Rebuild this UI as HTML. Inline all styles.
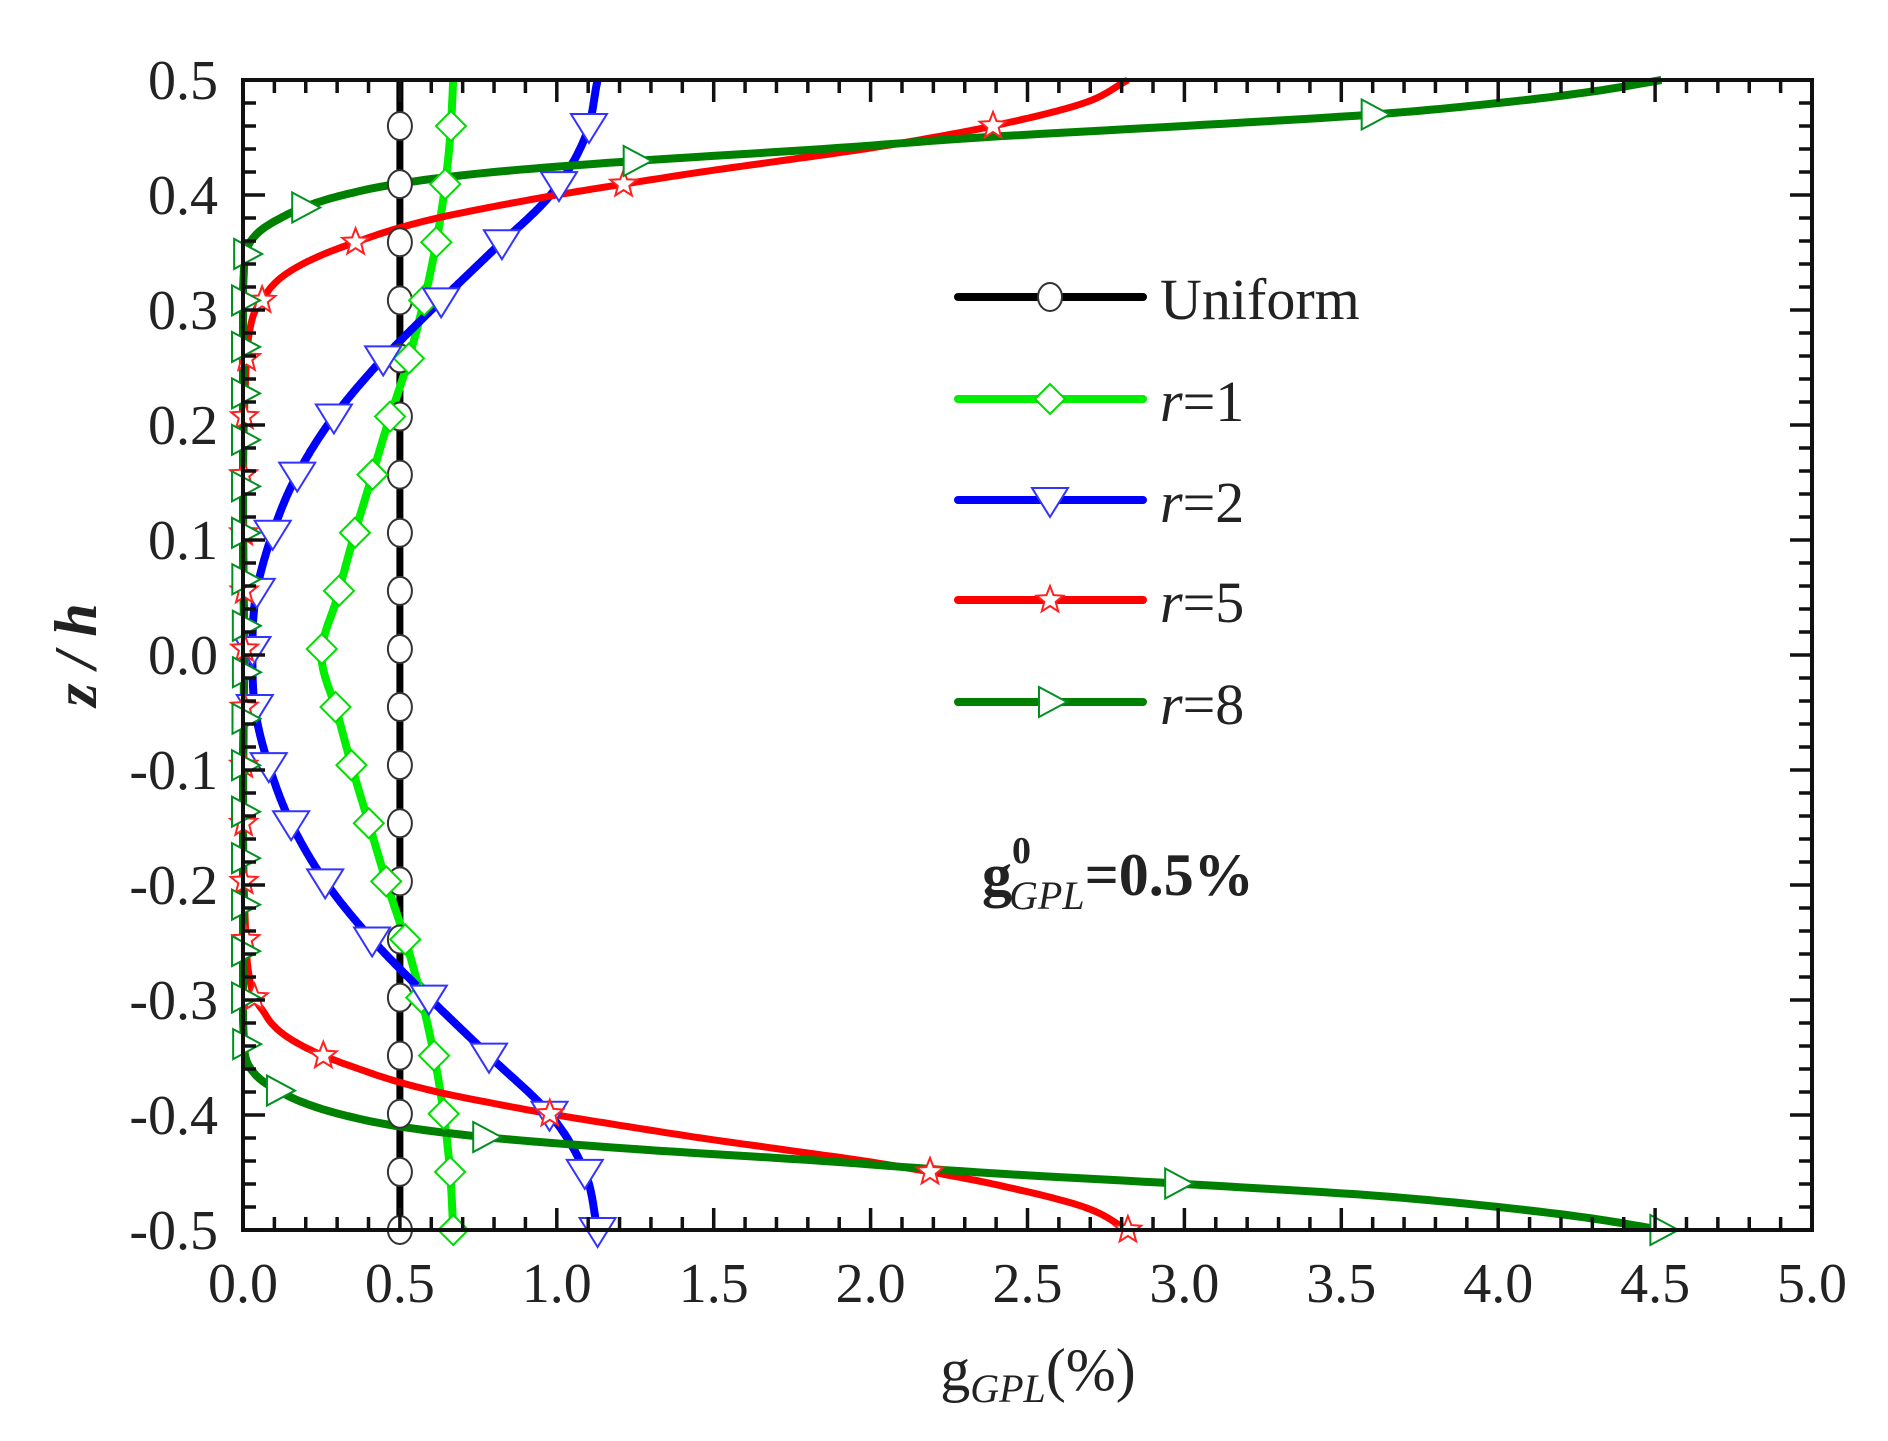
<!DOCTYPE html>
<html><head><meta charset="utf-8"><style>
html,body{margin:0;padding:0;background:#fff;}
svg{display:block;}
text{font-family:"Liberation Serif",serif;fill:#222;}
</style></head><body>
<svg id="s" width="1888" height="1441" viewBox="0 0 1888 1441" xmlns="http://www.w3.org/2000/svg">
<g id="curves"></g>
<g id="frame"></g>
<g id="labels">
<text x="1038" y="1390" font-size="60" text-anchor="middle">g<tspan font-size="40" font-style="italic" dy="12">GPL</tspan><tspan dy="-12">(%)</tspan></text>
<text transform="translate(96,655) rotate(-90)" font-size="60" font-weight="bold" font-style="italic" text-anchor="middle">z / h</text>
<text x="982" y="895" font-size="60" font-weight="bold">g<tspan font-size="38" dy="-32">0</tspan><tspan font-size="40" font-style="italic" font-weight="normal" dx="-22" dy="46">GPL</tspan><tspan dy="-14">=0.5%</tspan></text>
</g>
<g id="legend"></g>
</svg>
<script>
const NS="http://www.w3.org/2000/svg";
const L=243,R=1812,T=80,B=1230;
const X=g=>L+g*(R-L)/5, Y=z=>T+(0.5-z)*(B-T);
function el(parent,tag,attrs,txt){const e=document.createElementNS(NS,tag);for(const k in attrs)e.setAttribute(k,attrs[k]);if(txt!==undefined)e.textContent=txt;document.getElementById(parent).appendChild(e);return e;}
function interp(pts){
  const n=pts.length,xs=pts.map(p=>p[0]),ys=pts.map(p=>p[1]);
  const d=[],m=[];
  for(let i=0;i<n-1;i++)d.push((ys[i+1]-ys[i])/(xs[i+1]-xs[i]));
  m[0]=d[0];m[n-1]=d[n-2];
  for(let i=1;i<n-1;i++){m[i]=(d[i-1]*d[i]<=0)?0:(d[i-1]+d[i])/2;}
  return z=>{let i=0;while(i<n-2&&z>xs[i+1])i++;const h=xs[i+1]-xs[i],t=(z-xs[i])/h;
    const h00=2*t*t*t-3*t*t+1,h10=t*t*t-2*t*t+t,h01=-2*t*t*t+3*t*t,h11=t*t*t-t*t;
    return h00*ys[i]+h10*h*m[i]+h01*ys[i+1]+h11*h*m[i+1];};
}
function sym(half){
  const a=half.slice().sort((p,q)=>p[0]-q[0]);
  const neg=a.filter(p=>p[0]>0).map(p=>[-p[0],p[1]]).reverse();
  return interp(neg.concat(a));
}
const f={
 uni:z=>0.5,
 r1:sym([[0,0.25],[0.05,0.30],[0.1,0.35],[0.15,0.405],[0.2,0.46],[0.25,0.52],[0.3,0.57],[0.35,0.61],[0.4,0.64],[0.45,0.66],[0.5,0.67]]),
 r2:sym([[0,0.03],[0.05,0.04],[0.1,0.087],[0.15,0.16],[0.2,0.27],[0.25,0.42],[0.3,0.6],[0.35,0.79],[0.4,0.98],[0.45,1.09],[0.5,1.13]]),
 r5:sym([[0,0.005],[0.25,0.01],[0.28,0.02],[0.30,0.04],[0.31,0.065],[0.32,0.09],[0.33,0.13],[0.34,0.19],[0.35,0.27],[0.36,0.37],[0.37,0.48],[0.38,0.62],[0.39,0.8],[0.40,1.0],[0.41,1.225],[0.42,1.46],[0.43,1.72],[0.44,1.98],[0.45,2.2],[0.46,2.39],[0.48,2.68],[0.5,2.82]]),
 r8:sym([[0,0.003],[0.34,0.004],[0.35,0.008],[0.36,0.025],[0.37,0.06],[0.38,0.12],[0.39,0.2],[0.40,0.32],[0.41,0.5],[0.42,0.8],[0.43,1.27],[0.44,1.85],[0.45,2.35],[0.46,3.0],[0.47,3.6],[0.48,4.0],[0.49,4.3],[0.5,4.52]])
};
const styles={
 uni:{c:"#000",w:7,m:"circle",mc:"#333"},
 r1:{c:"#00ee00",w:8,m:"diamond",mc:"#00dd00"},
 r2:{c:"#0000ff",w:8,m:"down",mc:"#3333ff"},
 r5:{c:"#ff0000",w:7,m:"star",mc:"#ff2020"},
 r8:{c:"#008000",w:8,m:"right",mc:"#009020"}
};
function marker(parent,type,x,y,c){
  const a={fill:"#fff",stroke:c,"stroke-width":2};
  if(type=="circle")el(parent,"ellipse",Object.assign({cx:x,cy:y,rx:12,ry:14},a));
  else if(type=="diamond")el(parent,"polygon",Object.assign({points:`${x},${y-15} ${x+15},${y} ${x},${y+15} ${x-15},${y}`},a));
  else if(type=="down")el(parent,"polygon",Object.assign({points:`${x-18},${y-12} ${x+18},${y-12} ${x},${y+17}`},a));
  else if(type=="right")el(parent,"polygon",Object.assign({points:`${x-11},${y-15} ${x+17},${y} ${x-11},${y+15}`},a));
  else if(type=="star"){let p=[];for(let i=0;i<10;i++){const r=i%2?6:14,an=-Math.PI/2+i*Math.PI/5;p.push((x+r*Math.cos(an)).toFixed(1)+","+(y+r*Math.sin(an)).toFixed(1));}
    el(parent,"polygon",Object.assign({points:p.join(" ")},a));}
}
const order=["uni","r1","r2","r5","r8"];
const mz={uni:[],r1:[],r2:[],r5:[],r8:[]};
for(let k=0;k<=19;k++){const z=0.46-0.96/19*k;mz.uni.push(z);mz.r1.push(z);mz.r2.push(z);mz.r5.push(z);}
for(let k=0;k<=24;k++){mz.r8.push(0.47-0.97/24*k);}
for(const key of order){
  const s=styles[key];let d="";
  for(let i=0;i<=1000;i++){const z=0.5-i/1000;const g=Math.max(0,f[key](z));d+=(i?"L":"M")+X(g).toFixed(1)+","+Y(z).toFixed(1);}
  el("curves","path",{d:d,fill:"none",stroke:s.c,"stroke-width":s.w,"stroke-linejoin":"round"});
}
for(const key of order){
  const s=styles[key];
  for(const z of mz[key]){marker("curves",s.m,X(Math.max(0,f[key](z))),Y(z),s.mc);}
}
el("frame","rect",{x:L,y:T,width:R-L,height:B-T,fill:"none",stroke:"#111","stroke-width":4});
for(let i=0;i<=50;i++){const x=L+i*(R-L)/50;const len=i%5==0?22:13;
  el("frame","line",{x1:x,y1:B,x2:x,y2:B-len,stroke:"#111","stroke-width":3.5});
  el("frame","line",{x1:x,y1:T,x2:x,y2:T+len,stroke:"#111","stroke-width":3.5});
  if(i%5==0)el("labels","text",{x:x,y:B+72,"font-size":56,"text-anchor":"middle"},(i/10).toFixed(1));
}
for(let i=0;i<=50;i++){const y=T+i*(B-T)/50;const len=i%5==0?22:13;
  el("frame","line",{x1:L,y1:y,x2:L+len,y2:y,stroke:"#111","stroke-width":3.5});
  el("frame","line",{x1:R,y1:y,x2:R-len,y2:y,stroke:"#111","stroke-width":3.5});
  if(i%5==0){const v=0.5-i/50;el("labels","text",{x:218,y:y+19,"font-size":56,"text-anchor":"end"},(Math.abs(v)<1e-9?0:v).toFixed(1));}
}
const ly=[297,399,500,600,702];const names=["Uniform","r=1","r=2","r=5","r=8"];
order.forEach((key,i)=>{const s=styles[key];
  el("legend","line",{x1:958,y1:ly[i],x2:1143,y2:ly[i],stroke:s.c,"stroke-width":8,"stroke-linecap":"round"});
  marker("legend",s.m,1050,ly[i],s.mc);
  const t=el("legend","text",{x:1160,y:ly[i]+22,"font-size":58});
  if(i==0)t.textContent="Uniform";else{const a=document.createElementNS(NS,"tspan");a.setAttribute("font-style","italic");a.textContent="r";t.appendChild(a);t.appendChild(document.createTextNode(names[i].slice(1)));}
});
</script>
</body></html>
